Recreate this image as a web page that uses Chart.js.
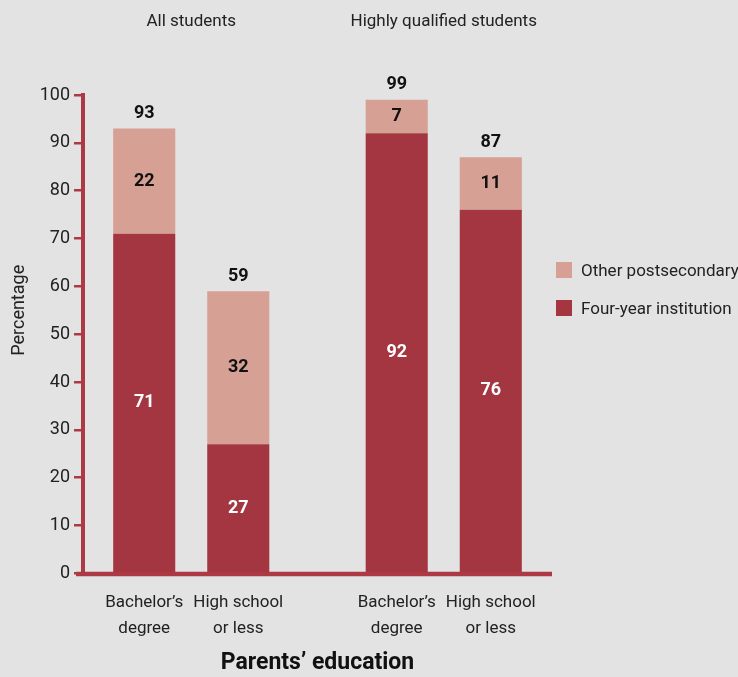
<!DOCTYPE html>
<html>
<head>
<meta charset="utf-8">
<script src="https://cdn.jsdelivr.net/npm/chart.js@4.4.1/dist/chart.umd.min.js"></script>
<style>
  body { margin: 0; background: #e3e3e3; }
  #wrap { position: relative; width: 738px; height: 677px; }
  #legend { position: absolute; left: 556px; top: 262px; font-family: Roboto, sans-serif; font-size: 17px; color: #222; }
  .item { display: flex; align-items: center; height: 16px; margin-bottom: 22px; white-space: nowrap; }
  .swatch { width: 16px; height: 16px; margin-right: 9px; }
</style>
</head>
<body>
<div id="wrap">
  <canvas id="chart"></canvas>
  <div id="legend"></div>
</div>
<script>
const groups = ['All students', 'Highly qualified students'];
const parentsEducation = [['Bachelor’s', 'degree'], ['High school', 'or less']];
const fourYearBachelors = [71, 92];
const fourYearHighSchool = [27, 76];
const otherBachelors = [22, 7];
const otherHighSchool = [32, 11];
const yTicks = [0, 10, 20, 30, 40, 50, 60, 70, 80, 90, 100];

const FONT = 'Roboto, sans-serif';
const dark = '#a33641';
const light = '#d6a094';
const axisColor = '#ad3945';
const yAxisAt = -0.4287; // y axis sits a little inside the first category

// texts: group titles, y tick labels, bar values, labels under bars, baseline, y title
const chartText = {
  id: 'chartText',
  afterDatasetsDraw(chart) {
    const ctx = chart.ctx;
    const area = chart.chartArea;
    const x = chart.scales.x, y = chart.scales.y;
    const axisX = x.getPixelForValue(yAxisAt);
    ctx.save();
    ctx.textBaseline = 'middle';

    // baseline
    const y0 = y.getPixelForValue(0) + 0.5;
    ctx.strokeStyle = axisColor;
    ctx.lineWidth = 4.5;
    ctx.beginPath();
    ctx.moveTo(axisX - 7, y0);
    ctx.lineTo(area.right - 18, y0);
    ctx.stroke();

    // y tick labels
    ctx.font = '18px ' + FONT;
    ctx.fillStyle = '#222';
    ctx.textAlign = 'right';
    y.ticks.forEach(t => ctx.fillText(t.value, axisX - 13, y.getPixelForValue(t.value)));

    ctx.textAlign = 'center';
    ctx.font = '17px ' + FONT;
    groups.forEach((g, i) => ctx.fillText(g, x.getPixelForValue(i), 22));

    ctx.font = 'bold 18px ' + FONT;
    chart.data.datasets.forEach((ds, i) => {
      const meta = chart.getDatasetMeta(i);
      meta.data.forEach((bar, j) => {
        ctx.fillStyle = ds.textColor;
        ctx.fillText(ds.data[j], bar.x, (bar.y + bar.base) / 2);
        if (ds.below) {
          const total = ds.data[j] + ds.below[j];
          ctx.fillStyle = '#111';
          ctx.fillText(total, bar.x, bar.y - 15);
        }
      });
    });

    ctx.font = '17px ' + FONT;
    ctx.fillStyle = '#222';
    chart.data.datasets.forEach((ds, i) => {
      if (ds.below) return;
      const lines = parentsEducation[ds.edIndex];
      chart.getDatasetMeta(i).data.forEach(bar => {
        ctx.fillText(lines[0], bar.x, area.bottom + 29);
        ctx.fillText(lines[1], bar.x, area.bottom + 55);
      });
    });

    ctx.font = '18px ' + FONT;
    ctx.translate(19, y.getPixelForValue(55));
    ctx.rotate(-Math.PI / 2);
    ctx.fillText('Percentage', 0, 0);
    ctx.restore();
  }
};

const datasets = [
  { label: 'Four-year institution', data: fourYearBachelors, stack: 'bach', backgroundColor: dark, textColor: '#fff', edIndex: 0 },
  { label: 'Four-year institution', data: fourYearHighSchool, stack: 'hs', backgroundColor: dark, textColor: '#fff', edIndex: 1 },
  { label: 'Other postsecondary', data: otherBachelors, stack: 'bach', backgroundColor: light, textColor: '#111', below: fourYearBachelors },
  { label: 'Other postsecondary', data: otherHighSchool, stack: 'hs', backgroundColor: light, textColor: '#111', below: fourYearHighSchool }
];
datasets.forEach(d => { d.categoryPercentage = 0.745; d.barPercentage = 0.66; });

new Chart(document.getElementById('chart'), {
  type: 'bar',
  data: { labels: groups, datasets: datasets },
  options: {
    responsive: true,
    maintainAspectRatio: false,
    animation: false,
    layout: { padding: { left: 65, right: 168, top: 95, bottom: 0 } },
    plugins: { legend: { display: false }, tooltip: { enabled: false } },
    scales: {
      x: {
        type: 'category',
        offset: true,
        stacked: true,
        grid: { display: false, drawTicks: false },
        border: { display: false },
        ticks: { display: false },
        title: {
          display: true,
          text: 'Parents’ education',
          color: '#111',
          font: { family: FONT, size: 23, weight: 'bold' },
          padding: { top: 76, bottom: 0 }
        }
      },
      y: {
        stacked: true,
        position: { x: yAxisAt },
        min: 0,
        max: 100,
        afterBuildTicks: s => { s.ticks = yTicks.map(v => ({ value: v })); },
        grid: { drawOnChartArea: false, drawTicks: true, tickLength: 7, color: axisColor, lineWidth: 2.5 },
        border: { display: true, color: axisColor, width: 4 },
        ticks: { display: false }
      }
    }
  },
  plugins: [chartText]
});

const legendItems = [['Other postsecondary', light], ['Four-year institution', dark]];
document.getElementById('legend').innerHTML = legendItems.map(it =>
  '<div class="item"><span class="swatch" style="background:' + it[1] + '"></span>' + it[0] + '</div>').join('');
</script>
</body>
</html>
